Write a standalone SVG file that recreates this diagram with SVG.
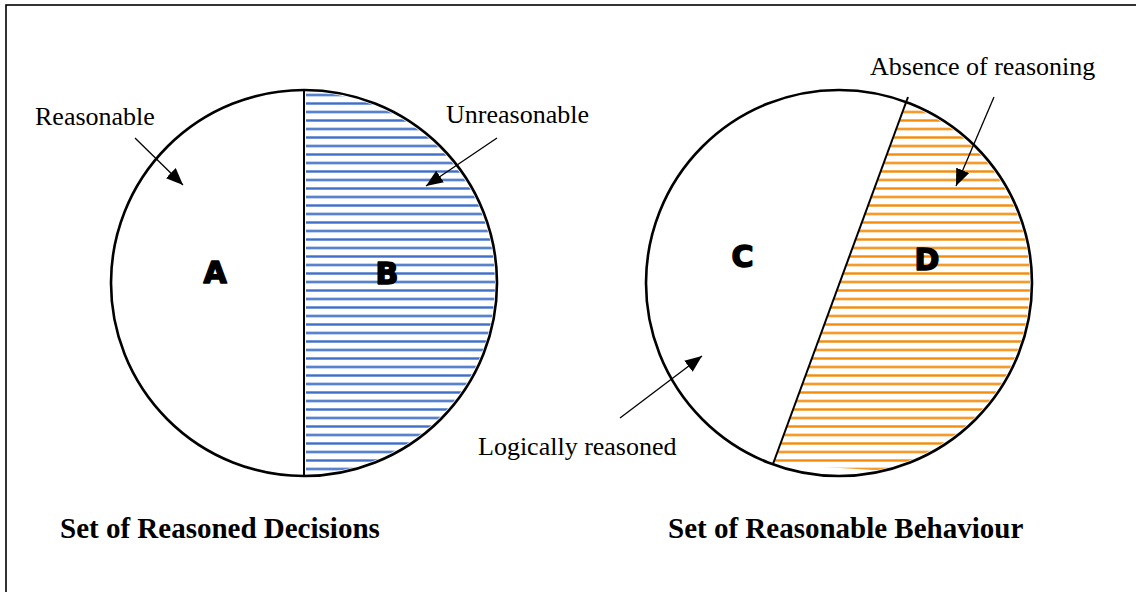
<svg xmlns="http://www.w3.org/2000/svg" width="1136" height="592" viewBox="0 0 1136 592">
<style>
.lbl{font-family:"Liberation Serif","Times New Roman",serif;font-size:26px;fill:#000}
.ttl{font-family:"Liberation Serif","Times New Roman",serif;font-size:29px;font-weight:bold;fill:#000}
.big{font-family:"DejaVu Sans","Liberation Sans",sans-serif;font-size:30px;font-weight:bold;fill:#000;stroke:#000;stroke-width:1.6;stroke-linejoin:round;text-anchor:middle}
.ring{fill:none;stroke:#000;stroke-width:2.6}
.div{stroke:#000;stroke-width:2;fill:none}
.arr{stroke:#000;stroke-width:1.3;fill:none;marker-end:url(#ah)}
</style>
<defs>
<marker id="ah" markerUnits="userSpaceOnUse" markerWidth="18" markerHeight="14" refX="17" refY="7" orient="auto">
<path d="M0,0 L17,7 L0,14 Z" fill="#000"/>
</marker>
<pattern id="hb" patternUnits="userSpaceOnUse" x="0" y="90.75" width="1136" height="8.5">
<line x1="0" y1="4.25" x2="1136" y2="4.25" stroke="#3f6fc6" stroke-width="2.2"/>
</pattern>
<pattern id="ho" patternUnits="userSpaceOnUse" x="0" y="90.75" width="1136" height="8.5">
<line x1="0" y1="4.25" x2="1136" y2="4.25" stroke="#f28c0a" stroke-width="2.2"/>
</pattern>
<clipPath id="c1"><circle cx="304" cy="283" r="191"/></clipPath>
<clipPath id="c2"><circle cx="839" cy="283" r="191"/></clipPath>
</defs>
<rect x="0" y="0" width="1136" height="592" fill="#fff"/>
<rect id="frame" x="6" y="5" width="1160" height="620" fill="none" stroke="#000" stroke-width="1.6"/>

<g id="set-reasoned-decisions">
<rect x="306" y="88" width="200" height="392" fill="url(#hb)" clip-path="url(#c1)"/>
<circle class="ring" cx="304" cy="283" r="193"/>
<line class="div" x1="304" y1="90" x2="304" y2="476"/>
<text class="big" x="215" y="283">A</text>
<text class="big" x="387" y="284">B</text>
<text class="ttl" x="60" y="538">Set of Reasoned Decisions</text>
</g>

<g id="set-reasonable-behaviour">
<path d="M908,97 L773,464 L1040,480 L1040,88 Z" fill="url(#ho)" clip-path="url(#c2)"/>
<circle class="ring" cx="839" cy="283" r="193"/>
<line class="div" x1="908" y1="97" x2="773" y2="464"/>
<text class="big" x="742.5" y="267">C</text>
<text class="big" x="927" y="270">D</text>
<text class="ttl" x="668" y="538">Set of Reasonable Behaviour</text>
</g>

<g id="label-reasonable"><text class="lbl" x="35" y="125">Reasonable</text></g>
<g id="label-unreasonable"><text class="lbl" x="446" y="123">Unreasonable</text></g>
<g id="label-absence"><text class="lbl" x="870" y="75">Absence of reasoning</text></g>
<g id="label-logical"><text class="lbl" x="478" y="455">Logically reasoned</text></g>

<g id="connectors">
<line class="arr" x1="135" y1="138" x2="183" y2="185"/>
<line class="arr" x1="497" y1="138" x2="426" y2="186"/>
<line class="arr" x1="994" y1="97" x2="956" y2="186"/>
<line class="arr" x1="620" y1="418" x2="702" y2="356"/>
</g>
</svg>
